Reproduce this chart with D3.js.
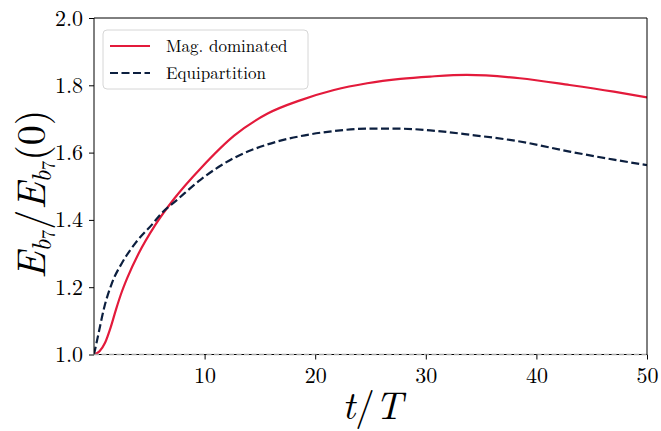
<!DOCTYPE html>
<html>
<head>
<meta charset="utf-8">
<script src="https://cdn.jsdelivr.net/npm/d3@7"></script>
<style>
  html, body { margin: 0; padding: 0; background: #fff; }
  svg { display: block; }
  text { font-family: "Latin Modern Roman", "CMU Serif", "Liberation Serif", serif; fill: #000; }
</style>
</head>
<body>
<svg id="chart" width="661" height="431"></svg>
<script>
// Time in units of T
const tMag = [0, 0.5, 1.0, 1.5, 2.0, 2.5, 3.0, 4.0, 5.5, 7.3, 9.7, 12.7, 15.7, 18.7, 21.7, 24.7, 27.7, 30.4, 33.7, 38.5, 43, 47, 50];
// Energy ratio, magnetically dominated run
const magValues = [1.0, 1.01, 1.035, 1.08, 1.135, 1.185, 1.227, 1.298, 1.383, 1.465, 1.555, 1.651, 1.716, 1.756, 1.786, 1.806, 1.819, 1.826, 1.831, 1.821, 1.801, 1.781, 1.764];

const tEq = [0, 0.42, 0.88, 1.63, 2.53, 3.74, 5.24, 6.14, 7.35, 9.65, 12.65, 15.66, 18.67, 21.7, 24.7, 27.7, 30.4, 34, 38.5, 43, 47, 50];
// Energy ratio, equipartition run
const eqValues = [1.0, 1.064, 1.134, 1.213, 1.272, 1.331, 1.386, 1.421, 1.455, 1.520, 1.584, 1.624, 1.649, 1.664, 1.671, 1.671, 1.666, 1.653, 1.633, 1.603, 1.579, 1.563];

const xTicks = [10, 20, 30, 40, 50];
const yTicks = [1.0, 1.2, 1.4, 1.6, 1.8, 2.0];
const seriesNames = ["Mag. dominated", "Equipartition"];

const svg = d3.select("#chart");
const margin = {left: 94, right: 14, top: 18, bottom: 76.5};
const W = 661, H = 431;
const x = d3.scaleLinear().domain([0, 50]).range([margin.left, W - margin.right]);
const y = d3.scaleLinear().domain([1.0, 2.0]).range([H - margin.bottom, margin.top]);

const red = "#e31a3b", navy = "#0c1f3f";

// Curves
const line = d3.line().x(d => x(d[0])).y(d => y(d[1])).curve(d3.curveMonotoneX);
const magData = tMag.map((t, i) => [t, magValues[i]]);
const eqData = tEq.map((t, i) => [t, eqValues[i]]);

const plot = svg.append("g");
plot.append("defs").append("clipPath").attr("id", "clip")
  .append("rect").attr("x", x(0)).attr("y", y(2)).attr("width", x(50) - x(0)).attr("height", y(1) - y(2));

// Reference level at unity
plot.append("line")
  .attr("x1", x(0)).attr("x2", x(50)).attr("y1", y(1)).attr("y2", y(1))
  .attr("stroke", "#000").attr("stroke-width", 1);

plot.append("path").datum(magData).attr("d", line)
  .attr("fill", "none").attr("stroke", red).attr("stroke-width", 2.2)
  .attr("clip-path", "url(#clip)");
plot.append("path").datum(eqData).attr("d", line)
  .attr("fill", "none").attr("stroke", navy).attr("stroke-width", 2.2)
  .attr("stroke-dasharray", "8,3.5")
  .attr("clip-path", "url(#clip)");

plot.append("line")
  .attr("x1", x(0)).attr("x2", x(50)).attr("y1", y(1)).attr("y2", y(1))
  .attr("stroke", "#aaa").attr("stroke-width", 1.3).attr("stroke-dasharray", "5,2.5");

// Axes
const xAxis = svg.append("g").attr("transform", `translate(0,${y(1)})`)
  .call(d3.axisBottom(x).tickValues(xTicks).tickSize(5).tickPadding(7).tickFormat(d3.format("d")));
const yAxis = svg.append("g").attr("transform", `translate(${x(0)},0)`)
  .call(d3.axisLeft(y).tickValues(yTicks).tickSize(5).tickPadding(6).tickFormat(d3.format(".1f")));
[xAxis, yAxis].forEach(a => {
  a.select(".domain").remove();
  a.selectAll(".tick line").attr("stroke", "#000").attr("stroke-width", 1);
  a.selectAll(".tick text").style("font-size", "22px").style("font-family", null).attr("fill", "#000");
});
xAxis.selectAll(".tick text").attr("dy", "0.75em");

// Frame
svg.append("line").attr("x1", x(0)).attr("x2", x(0)).attr("y1", y(2)).attr("y2", y(1)).attr("stroke", "#000");
svg.append("line").attr("x1", x(50)).attr("x2", x(50)).attr("y1", y(2)).attr("y2", y(1)).attr("stroke", "#000");
svg.append("line").attr("x1", x(0)).attr("x2", x(50)).attr("y1", y(2)).attr("y2", y(2)).attr("stroke", "#000");

// Axis titles
const xt = svg.append("text").attr("x", (x(0) + x(50)) / 2 + 2).attr("y", 419)
  .attr("text-anchor", "middle").style("font-size", "39px");
xt.append("tspan").style("font-style", "italic").text("t");
xt.append("tspan").text("/");
xt.append("tspan").style("font-style", "italic").text("T");

const yt = svg.append("text").attr("transform", `translate(45,${(y(1) + y(2)) / 2 + 8}) rotate(-90)`)
  .attr("text-anchor", "middle").style("font-size", "40px");
yt.append("tspan").style("font-style", "italic").text("E");
yt.append("tspan").style("font-style", "italic").style("font-size", "27px").attr("dy", 6).text("b");
yt.append("tspan").style("font-size", "19px").attr("dy", 4).text("7");
yt.append("tspan").attr("dy", -10).text("/");
yt.append("tspan").style("font-style", "italic").text("E");
yt.append("tspan").style("font-style", "italic").style("font-size", "27px").attr("dy", 6).text("b");
yt.append("tspan").style("font-size", "19px").attr("dy", 4).text("7");
yt.append("tspan").attr("dy", -10).text("(0)");

// Legend
const lg = svg.append("g").attr("transform", "translate(103,30)");
lg.append("rect").attr("width", 205).attr("height", 59).attr("rx", 4)
  .attr("fill", "#fff").attr("fill-opacity", 0.8).attr("stroke", "#d6d6d6").attr("stroke-width", 1);
const styles = [{c: red, dash: null}, {c: navy, dash: "8,3.5"}];
seriesNames.forEach((name, i) => {
  const yy = 16 + i * 27;
  lg.append("line").attr("x1", 7).attr("x2", 47).attr("y1", yy).attr("y2", yy)
    .attr("stroke", styles[i].c).attr("stroke-width", 2.2)
    .attr("stroke-dasharray", styles[i].dash);
  lg.append("text").attr("x", 63).attr("y", yy + 6).style("font-size", "17px").text(name);
});
</script>
</body>
</html>
